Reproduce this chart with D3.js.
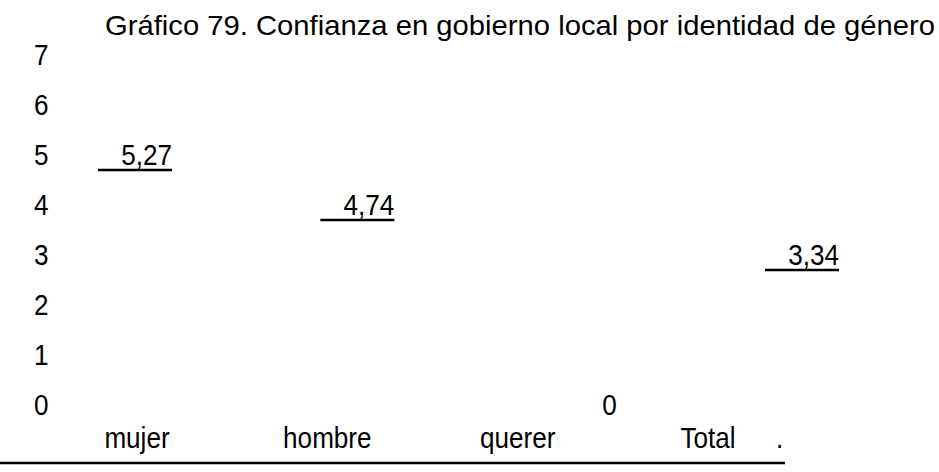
<!DOCTYPE html>
<html>
<head>
<meta charset="utf-8">
<script src="https://cdn.jsdelivr.net/npm/d3@7"></script>
<style>
  body { margin: 0; background: #fff; }
  text { font-family: "Liberation Sans", Arial, sans-serif; fill: #000; }
</style>
</head>
<body>
<script>
// data
const title = "Gráfico 79. Confianza en gobierno local por identidad de género";
const categories = ["mujer", "hombre", "querer", "Total"];
const values = [5.27, 4.74, 0, 3.34];
const valueLabels = ["5,27", "4,74", "0", "3,34"];
const yTicks = [0, 1, 2, 3, 4, 5, 6, 7];

const width = 939, height = 472;
const fs = 29, squeeze = 0.9; // text looks a bit tall and narrow

const svg = d3.select("body")
    .append("svg")
    .attr("width", width)
    .attr("height", height);

// places a text at (px,py), squeezed horizontally around its anchor
function place(sel, px, py) {
    return sel.attr("transform", (d, i) =>
        "translate(" + px(d, i) + "," + py(d, i) + ") scale(" + squeeze + ",1)");
}

// title
svg.append("text")
    .attr("x", 105)
    .attr("y", 35)
    .attr("font-size", 28)
    .attr("textLength", 830)
    .attr("lengthAdjust", "spacingAndGlyphs")
    .text(title);

// y rows
const y = d3.scaleLinear()
    .domain([0, 7])
    .range([405, 55]);

place(svg.append("g")
    .selectAll("text")
    .data(yTicks)
    .enter()
    .append("text")
    .attr("dy", "0.35em")
    .attr("font-size", fs)
    .text(d => d), () => 34, d => y(d));

// category positions (labels under the rows)
const x = d3.scalePoint()
    .domain(categories)
    .range([137, 708]);

// value label positions (right end of each label)
const xl = d3.scalePoint()
    .domain(categories)
    .range([172, 839]);

const data = categories.map((c, i) => ({ cat: c, value: values[i], label: valueLabels[i] }));

// value labels, underlined with the leading blank
const lab = svg.append("g")
    .selectAll("g")
    .data(data)
    .enter()
    .append("g")
    .attr("transform", d => "translate(" + xl(d.cat) + "," + y(Math.floor(d.value)) + ")");

lab.append("text")
    .attr("text-anchor", "end")
    .attr("dy", "0.35em")
    .attr("font-size", fs)
    .attr("transform", "scale(" + squeeze + ",1)")
    .text(d => d.label);

lab.filter(d => d.value > 0)
    .append("line")
    .attr("x1", -74)
    .attr("x2", 0)
    .attr("y1", 15)
    .attr("y2", 15)
    .attr("stroke", "#000")
    .attr("stroke-width", 2.5);

// category labels
place(svg.append("g")
    .selectAll("text")
    .data(categories)
    .enter()
    .append("text")
    .attr("text-anchor", "middle")
    .attr("font-size", fs)
    .text(d => d), d => x(d), () => 448);

svg.append("text")
    .attr("transform", "translate(776,448) scale(" + squeeze + ",1)")
    .attr("font-size", fs)
    .text(".");

// bottom rule
svg.append("line")
    .attr("x1", 0)
    .attr("x2", 785)
    .attr("y1", 463)
    .attr("y2", 463)
    .attr("stroke", "#000")
    .attr("stroke-width", 2.5);
</script>
</body>
</html>
